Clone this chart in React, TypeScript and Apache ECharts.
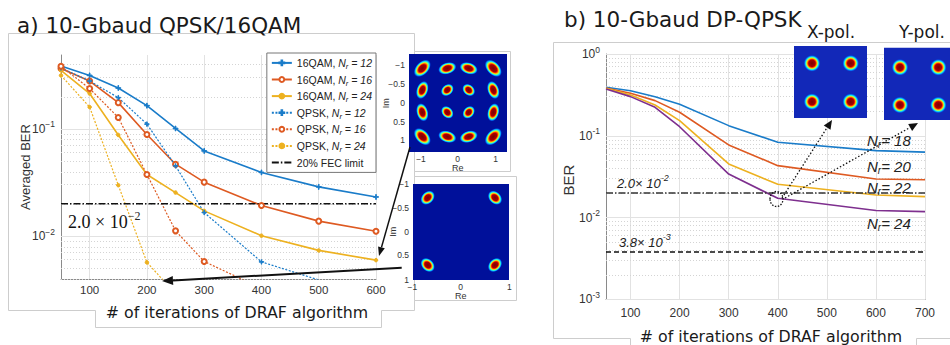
import React, { useEffect, useRef } from 'react';
import * as echarts from 'echarts';

// ---------------- Panel a) 10-Gbaud QPSK/16QAM ----------------
const ITER_16QAM = [50, 100, 150, 200, 250, 300, 400, 500, 600];
const BER_16QAM_NR12 = [0.386, 0.316, 0.241, 0.165, 0.101, 0.0624, 0.0393, 0.0288, 0.0232];
const BER_16QAM_NR16 = [0.366, 0.28, 0.176, 0.0887, 0.0469, 0.0319, 0.0193, 0.0138, 0.0111];
const BER_16QAM_NR24 = [0.352, 0.214, 0.0879, 0.0376, 0.0255, 0.0172, 0.0101, 0.00736, 0.00597];
const ITER_QPSK_NR12 = [50, 100, 150, 200, 250, 300, 400, 500];
const BER_QPSK_NR12 = [0.371, 0.28, 0.196, 0.111, 0.0452, 0.0166, 0.00575, 0.0039];
const ITER_QPSK_NR16 = [50, 100, 150, 200, 250, 300, 400];
const BER_QPSK_NR16 = [0.384, 0.238, 0.128, 0.0376, 0.0112, 0.0058, 0.00325];
const ITER_QPSK_NR24 = [50, 100, 150, 200, 250];
const BER_QPSK_NR24 = [0.316, 0.16, 0.0299, 0.00569, 0.0029];
const FEC_A = 0.02;
const X_TICKS_A = [100, 200, 300, 400, 500, 600];
const Y_DECADES_A = [-2, -1];
const NAMES_A = ['16QAM, Nr = 12', '16QAM, Nr = 16', '16QAM, Nr = 24', 'QPSK, Nr = 12', 'QPSK, Nr = 16', 'QPSK, Nr = 24', '20% FEC limit'];

// ---------------- Panel b) 10-Gbaud DP-QPSK ----------------
const ITER_B = [50, 100, 150, 200, 300, 400, 600, 700];
const BER_B_NR18 = [0.392, 0.356, 0.3, 0.243, 0.133, 0.0832, 0.0658, 0.063];
const BER_B_NR20 = [0.384, 0.331, 0.269, 0.194, 0.0773, 0.0431, 0.0296, 0.029];
const BER_B_NR22 = [0.38, 0.315, 0.238, 0.153, 0.0452, 0.0255, 0.0189, 0.018];
const BER_B_NR24 = [0.373, 0.301, 0.223, 0.129, 0.034, 0.0172, 0.0122, 0.0118];
const FEC_B_HIGH = 0.02;
const FEC_B_LOW = 0.0038;
const X_TICKS_B = [100, 200, 300, 400, 500, 600, 700];
const Y_DECADES_B = [-3, -2, -1, 0];

const BLUE = '#1a7cc9';
const ORANGE = '#de5a22';
const YELLOW = '#edb120';
const PURPLE = '#7e2f8e';
const SANS = 'Liberation Sans, Arial, sans-serif';
const TITLE_FONT = 'DejaVu Sans, sans-serif';
const CROSS = 'path://M-1,-0.13H-0.13V-1H0.13V-0.13H1V0.13H0.13V1H-0.13V0.13H-1Z';

const lg = (v: number) => Math.log10(v);
const pairs = (xs: number[], ys: number[]) => xs.map((x, i) => [x, lg(ys[i])]);

function minorLogs(min: number, max: number) {
  const out: number[] = [];
  for (let d = Math.floor(min); d <= Math.ceil(max); d++) {
    for (let k = 2; k <= 9; k++) {
      const v = d + Math.log10(k);
      if (v > min + 1e-6 && v < max - 1e-6) out.push(v);
    }
  }
  return out;
}

const MAJOR = { color: '#e2e2e2', type: 'solid', width: 1 };
const MINOR = { color: '#d4d4d4', type: [1, 2], width: 1 };

function gridSeries(idx: number, xTicks: number[], decades: number[], ymin: number, ymax: number) {
  const data: any[] = [];
  xTicks.forEach((v) => data.push({ xAxis: v, lineStyle: MAJOR }));
  decades.forEach((v) => data.push({ yAxis: v, lineStyle: MAJOR }));
  minorLogs(ymin, ymax).forEach((v) => data.push({ yAxis: v, lineStyle: MINOR }));
  return {
    type: 'line',
    xAxisIndex: idx,
    yAxisIndex: idx,
    data: [],
    silent: true,
    z: 1,
    markLine: { silent: true, z: 1, symbol: ['none', 'none'], label: { show: false }, animation: false, data },
  };
}

function jet(core = 0.45) {
  return new echarts.graphic.RadialGradient(0.5, 0.5, 0.5, [
    { offset: 0, color: '#7a0000' },
    { offset: core, color: '#a80000' },
    { offset: core + 0.1, color: '#ff2a00' },
    { offset: core + 0.2, color: '#ffc000' },
    { offset: core + 0.28, color: '#a0ff60' },
    { offset: core + 0.36, color: '#20f0e0' },
    { offset: Math.min(core + 0.45, 0.95), color: '#0090ff' },
    { offset: 1, color: 'rgba(0,40,220,0)' },
  ]);
}

function blob(cx: number, cy: number, ox: number, oy: number, a: number, b: number) {
  const rot = Math.atan2(-(cy - oy), cx - ox) + Math.PI / 2;
  return { type: 'ellipse', x: cx, y: cy, rotation: rot, shape: { cx: 0, cy: 0, rx: a, ry: b }, style: { fill: jet(0.4) }, z: 52, silent: true };
}

function txt(x: number, y: number, text: string, opts: any = {}) {
  const { rotation, z, ...st } = opts;
  return {
    type: 'text',
    x,
    y,
    rotation: rotation || 0,
    z: z ?? 60,
    silent: true,
    style: {
      text,
      fontFamily: SANS,
      fontSize: 12,
      fill: '#222',
      align: 'center',
      verticalAlign: 'middle',
      textAlign: 'center',
      textVerticalAlign: 'middle',
      ...st,
    },
  };
}

function arrowHead(tip: number[], from: number[], len: number, w: number) {
  const dx = tip[0] - from[0];
  const dy = tip[1] - from[1];
  const n = Math.hypot(dx, dy);
  const ux = dx / n;
  const uy = dy / n;
  const bx = tip[0] - len * ux;
  const by = tip[1] - len * uy;
  const px = -uy;
  const py = ux;
  return {
    base: [bx, by],
    poly: [tip, [bx + w * px, by + w * py], [bx - w * px, by - w * py]],
  };
}

function arrow(from: number[], tip: number[], opts: { width: number; dash?: number[]; len: number; w: number }) {
  const h = arrowHead(tip, from, opts.len, opts.w);
  return [
    {
      type: 'polyline',
      z: 61,
      silent: true,
      shape: { points: [from, h.base] },
      style: { stroke: '#111', lineWidth: opts.width, fill: 'none', lineDash: opts.dash || null },
    },
    { type: 'polygon', z: 61, silent: true, shape: { points: h.poly }, style: { fill: '#111' } },
  ];
}

const SUP = (size: number, pad: number, italic = false, family = SANS) => ({
  fontFamily: family,
  fontSize: size,
  fontStyle: italic ? 'italic' : 'normal',
  padding: [0, 0, pad, 0],
  fill: '#222',
  color: '#222',
});

function buildGraphics() {
  const G: any[] = [];
  const BORDER = '#cdcdcd';
  // panel borders
  G.push({
    type: 'polyline',
    z: 0,
    silent: true,
    shape: { points: [[8.5, 33.5], [414.5, 33.5], [414.5, 310.5], [381.5, 310.5], [381.5, 327.5], [95.5, 327.5], [95.5, 310.5], [8.5, 310.5], [8.5, 33.5]] },
    style: { stroke: BORDER, lineWidth: 1, fill: 'none' },
  });
  G.push({
    type: 'polyline',
    z: 0,
    silent: true,
    shape: { points: [[951, 42.5], [553.5, 42.5], [553.5, 338.5], [630.5, 338.5], [630.5, 346]] },
    style: { stroke: BORDER, lineWidth: 1, fill: 'none' },
  });
  G.push({
    type: 'polyline',
    z: 0,
    silent: true,
    shape: { points: [[916.5, 346], [916.5, 338.5], [951, 338.5]] },
    style: { stroke: BORDER, lineWidth: 1, fill: 'none' },
  });

  // titles
  G.push(txt(17, 25.5, 'a) 10-Gbaud QPSK/16QAM', { align: 'left', textAlign: 'left', fontFamily: TITLE_FONT, fontSize: 21.5, fill: '#1a1a1a' }));
  G.push(txt(564, 19.5, 'b) 10-Gbaud DP-QPSK', { align: 'left', textAlign: 'left', fontFamily: TITLE_FONT, fontSize: 21.5, fill: '#1a1a1a' }));
  G.push(txt(831, 32, 'X-pol.', { fontFamily: TITLE_FONT, fontSize: 17, fill: '#1a1a1a' }));
  G.push(txt(922, 32, 'Y-pol.', { fontFamily: TITLE_FONT, fontSize: 17, fill: '#1a1a1a' }));

  // axis titles
  G.push(txt(237, 312, '# of iterations of DRAF algorithm', { fontFamily: TITLE_FONT, fontSize: 15.8, fill: '#1a1a1a' }));
  G.push(txt(771, 336, '# of iterations of DRAF algorithm', { fontFamily: TITLE_FONT, fontSize: 15.8, fill: '#1a1a1a' }));
  G.push(txt(25, 167, 'Averaged BER', { rotation: Math.PI / 2, fontSize: 13, fill: '#333' }));
  G.push(txt(568, 180, 'BER', { rotation: Math.PI / 2, fontSize: 15, fill: '#333' }));

  // threshold annotations
  G.push(
    txt(68, 222, '2.0 × 10{e|−2}', {
      align: 'left',
      textAlign: 'left',
      fontFamily: 'Liberation Serif, serif',
      fontSize: 18,
      fill: '#111',
      rich: { e: SUP(12, 12, false, 'Liberation Serif, serif') },
    })
  );
  G.push(
    txt(617, 183, '2.0× 10{e|-2}', {
      align: 'left',
      textAlign: 'left',
      fontStyle: 'italic',
      fontSize: 13,
      fill: '#222',
      rich: { e: SUP(9, 10, true) },
    })
  );
  G.push(
    txt(619, 242, '3.8× 10{e|-3}', {
      align: 'left',
      textAlign: 'left',
      fontStyle: 'italic',
      fontSize: 13,
      fill: '#222',
      rich: { e: SUP(9, 10, true) },
    })
  );
  // N_r labels panel b
  const nrRich = {
    s: { fontFamily: SANS, fontStyle: 'italic', fontSize: 10, padding: [8, 0, 0, 0], fill: '#222', color: '#222' },
  };
  [
    [140, '18'],
    [166.7, '20'],
    [187.7, '22'],
    [223, '24'],
  ].forEach(([y, n]) => {
    G.push(txt(867, y as number, `N{s|r}= ${n}`, { align: 'left', textAlign: 'left', fontStyle: 'italic', fontSize: 15, fill: '#222', rich: nrRich }));
  });

  // ---- inset 16QAM ----
  G.push({ type: 'rect', z: 50, silent: true, shape: { x: 414.5, y: 51.5, width: 96, height: 120 }, style: { fill: '#fff', stroke: BORDER, lineWidth: 1 } });
  G.push({ type: 'rect', z: 51, silent: true, shape: { x: 409, y: 54, width: 98, height: 98 }, style: { fill: '#00109a' } });
  const qx = [422.3, 447.3, 468.7, 493.3];
  const qy = [68.3, 90, 112.3, 136.7];
  const ox = 457.8;
  const oy = 102.5;
  for (let r = 0; r < 4; r++) {
    for (let c = 0; c < 4; c++) {
      const edgeR = r === 0 || r === 3;
      const edgeC = c === 0 || c === 3;
      let a = 7.2;
      let b = 5.6;
      if (edgeR && edgeC) {
        a = 10.5;
        b = 6.6;
      } else if (edgeR || edgeC) {
        a = 9.5;
        b = 6;
      }
      G.push(blob(qx[c], qy[r], ox, oy, a, b));
    }
  }
  const tick16 = [[-1, 65], [-0.5, 84.3], [0, 103.3], [0.5, 122.3], [1, 140.3]];
  tick16.forEach(([v, y]) => G.push(txt(405, y, String(v).replace('-', '−'), { align: 'right', textAlign: 'right', fontSize: 8.5, fill: '#333', z: 53 })));
  [[-1, 421], [0, 457.7], [1, 495.7]].forEach(([v, x]) => G.push(txt(x, 158.5, String(v).replace('-', '−'), { fontSize: 8.5, fill: '#333', z: 53 })));
  G.push(txt(457.7, 167.5, 'Re', { fontSize: 9, fill: '#333', z: 53 }));
  G.push(txt(386, 103.3, 'Im', { fontSize: 9, fill: '#333', z: 53, rotation: Math.PI / 2 }));

  // ---- inset QPSK ----
  G.push({ type: 'rect', z: 50, silent: true, shape: { x: 414.5, y: 176.5, width: 102, height: 124 }, style: { fill: '#fff', stroke: BORDER, lineWidth: 1 } });
  G.push({ type: 'rect', z: 51, silent: true, shape: { x: 413, y: 184, width: 96, height: 96 }, style: { fill: '#00109a' } });
  [[427.7, 197.7], [495, 197.7], [427.7, 265], [495, 265]].forEach(([x, y]) => G.push(blob(x, y, 461.3, 231.3, 8.2, 6.2)));
  [[-1, 184.3], [-0.5, 207.7], [0, 231.7], [0.5, 255], [1, 280]].forEach(([v, y]) =>
    G.push(txt(409, y, String(v).replace('-', '−'), { align: 'right', textAlign: 'right', fontSize: 8.5, fill: '#333', z: 53 }))
  );
  [[-1, 412.3], [0, 460.7], [1, 509.3]].forEach(([v, x]) => G.push(txt(x, 287, String(v).replace('-', '−'), { fontSize: 8.5, fill: '#333', z: 53 })));
  G.push(txt(460.7, 296, 'Re', { fontSize: 9, fill: '#333', z: 53 }));
  G.push(txt(392.7, 231.7, 'Im', { fontSize: 9, fill: '#333', z: 53, rotation: Math.PI / 2 }));

  // ---- insets X-pol / Y-pol ----
  G.push({ type: 'rect', z: 51, silent: true, shape: { x: 794, y: 46, width: 73, height: 72 }, style: { fill: '#1228b8' } });
  G.push({ type: 'rect', z: 51, silent: true, shape: { x: 884, y: 47.7, width: 67, height: 72.3 }, style: { fill: '#1228b8' } });
  const circ = (x: number, y: number) => ({
    type: 'circle',
    z: 52,
    silent: true,
    shape: { cx: x, cy: y, r: 8.5 },
    style: { fill: jet(0.38) },
  });
  [[812, 63.3], [850.7, 63.3], [812, 101.7], [850.7, 101.7], [900, 67.3], [938.3, 67.3], [900, 105], [938.3, 105]].forEach(([x, y]) => G.push(circ(x, y)));

  // arrows panel a
  G.push(...arrow([410, 147], [379, 256], { width: 1.5, len: 9, w: 3.5 }));
  G.push(...arrow([401.7, 267.7], [162, 281], { width: 2, len: 11, w: 4.5 }));
  // dotted arrows panel b
  G.push(...arrow([782, 198], [832, 120], { width: 1.3, dash: [1.5, 2], len: 9, w: 4 }));
  G.push(...arrow([785, 198], [918, 123], { width: 1.3, dash: [1.5, 2], len: 9, w: 4 }));
  G.push({
    type: 'ellipse',
    z: 61,
    silent: true,
    shape: { cx: 776.5, cy: 199, rx: 6.5, ry: 7.5 },
    style: { fill: 'none', stroke: '#111', lineWidth: 1.3, lineDash: [1.5, 1.5] },
  });
  return G;
}

function buildOption() {
  const axisLabelRich = {
    b: { fontFamily: SANS, fontSize: 12, color: '#333' },
    e: { fontFamily: SANS, fontSize: 8.5, color: '#333', padding: [0, 0, 9, 0] },
  };
  const decadeFmt = (v: number) => {
    const p = Math.round(v);
    return p === 0 ? '{b|10}{e|0}' : `{b|10}{e|${p < 0 ? '−' : ''}${Math.abs(p)}}`;
  };
  const decadeFmtB = (v: number) => {
    const p = Math.round(v);
    return p === 0 ? '{b|10}{e|0}' : `{b|10}{e|-${Math.abs(p)}}`;
  };
  const axisLineStyle = { color: '#8a8a8a', width: 1 };

  const lineSeries = (name: string, xs: number[], ys: number[], color: string, opts: any) => ({
    type: 'line',
    name,
    xAxisIndex: opts.idx ?? 0,
    yAxisIndex: opts.idx ?? 0,
    data: pairs(xs, ys),
    symbol: opts.symbol ?? 'circle',
    symbolSize: opts.symbolSize ?? 4,
    showSymbol: opts.symbol ? true : false,
    clip: true,
    z: 3,
    lineStyle: { color, width: opts.width ?? 1.5, type: opts.type ?? 'solid' },
    itemStyle: opts.symbol
      ? { color, borderColor: color, borderWidth: opts.borderWidth ?? 1 }
      : { color: 'rgba(0,0,0,0)', borderColor: 'rgba(0,0,0,0)', borderWidth: 0 },
  });

  const DOT = [2, 1.6];
  const legendRich = {
    n: { fontFamily: SANS, fontSize: 10.5, fontStyle: 'italic', color: '#222' },
    s: { fontFamily: SANS, fontSize: 7.5, fontStyle: 'italic', color: '#222', padding: [7, 0, 0, 0] },
  };

  return {
    animation: false,
    backgroundColor: '#fff',
    grid: [
      { left: 61, top: 55, width: 315, height: 224, outerBoundsMode: 'none' },
      { left: 606, top: 54, width: 319, height: 245.3, outerBoundsMode: 'none' },
    ],
    xAxis: [
      {
        type: 'value',
        gridIndex: 0,
        min: 50,
        max: 600,
        axisLine: { show: true, onZero: false, lineStyle: axisLineStyle },
        axisTick: { show: true, inside: true, length: 3, customValues: X_TICKS_A, lineStyle: axisLineStyle },
        axisLabel: { customValues: X_TICKS_A, margin: 5, fontFamily: SANS, fontSize: 11.5, color: '#333' },
        splitLine: { show: false },
      },
      {
        type: 'value',
        gridIndex: 1,
        min: 50,
        max: 700,
        axisLine: { show: true, onZero: false, lineStyle: axisLineStyle },
        axisTick: { show: true, inside: true, length: 3, customValues: X_TICKS_B, lineStyle: axisLineStyle },
        axisLabel: { customValues: X_TICKS_B, margin: 8, fontFamily: SANS, fontSize: 12, color: '#333' },
        splitLine: { show: false },
      },
    ],
    yAxis: [
      {
        type: 'value',
        gridIndex: 0,
        min: -2.4,
        max: -0.31,
        axisLine: { show: true, onZero: false, lineStyle: axisLineStyle },
        axisTick: { show: true, inside: true, length: 3, customValues: Y_DECADES_A, lineStyle: axisLineStyle },
        axisLabel: { customValues: Y_DECADES_A, margin: 6, formatter: decadeFmt, rich: axisLabelRich },
        splitLine: { show: false },
      },
      {
        type: 'value',
        gridIndex: 1,
        min: -3,
        max: 0,
        axisLine: { show: true, onZero: false, lineStyle: axisLineStyle },
        axisTick: { show: true, inside: true, length: 3, customValues: Y_DECADES_B, lineStyle: axisLineStyle },
        axisLabel: { customValues: Y_DECADES_B, margin: 6, formatter: decadeFmtB, rich: axisLabelRich },
        splitLine: { show: false },
      },
    ],
    legend: {
      data: NAMES_A,
      orient: 'vertical',
      right: 574,
      top: 53,
      itemWidth: 20,
      itemHeight: 6,
      itemGap: 2.2,
      padding: [3, 4, 3, 4],
      backgroundColor: '#fff',
      borderColor: '#777',
      borderWidth: 1,
      borderRadius: 0,
      selectedMode: false,
      textStyle: { fontFamily: SANS, fontSize: 10.5, color: '#222', lineHeight: 13.8, rich: legendRich },
      formatter: (name: string) => name.replace(/Nr = (\d+)/, '{n|N}{s|r}{n| = $1}'),
    },
    graphic: { elements: buildGraphics() },
    series: [
      gridSeries(0, X_TICKS_A, Y_DECADES_A, -2.4, -0.31),
      gridSeries(1, X_TICKS_B, Y_DECADES_B, -3, 0),
      lineSeries(NAMES_A[0], ITER_16QAM, BER_16QAM_NR12, BLUE, { symbol: CROSS, symbolSize: 5, width: 1.6 }),
      lineSeries(NAMES_A[1], ITER_16QAM, BER_16QAM_NR16, ORANGE, { symbol: 'emptyCircle', symbolSize: 5, width: 1.6, borderWidth: 1.1 }),
      lineSeries(NAMES_A[2], ITER_16QAM, BER_16QAM_NR24, YELLOW, { symbol: 'circle', symbolSize: 3.5, width: 1.6 }),
      lineSeries(NAMES_A[3], ITER_QPSK_NR12, BER_QPSK_NR12, BLUE, { symbol: CROSS, symbolSize: 4.5, width: 1.2, type: DOT }),
      lineSeries(NAMES_A[4], ITER_QPSK_NR16, BER_QPSK_NR16, ORANGE, { symbol: 'emptyCircle', symbolSize: 5, width: 1.2, type: DOT, borderWidth: 1 }),
      lineSeries(NAMES_A[5], ITER_QPSK_NR24, BER_QPSK_NR24, YELLOW, { symbol: 'circle', symbolSize: 3.5, width: 1.2, type: DOT }),
      lineSeries(NAMES_A[6], [50, 600], [FEC_A, FEC_A], '#111', { width: 1.5, type: [7, 2, 1.5, 2] }),
      // panel b
      lineSeries('Nr = 18', ITER_B, BER_B_NR18, BLUE, { idx: 1, width: 1.6 }),
      lineSeries('Nr = 20', ITER_B, BER_B_NR20, ORANGE, { idx: 1, width: 1.6 }),
      lineSeries('Nr = 22', ITER_B, BER_B_NR22, YELLOW, { idx: 1, width: 1.6 }),
      lineSeries('Nr = 24', ITER_B, BER_B_NR24, PURPLE, { idx: 1, width: 1.6 }),
      lineSeries('FEC 2.0e-2', [50, 700], [FEC_B_HIGH, FEC_B_HIGH], '#333', { idx: 1, width: 1.5, type: [7, 2, 1.5, 2] }),
      lineSeries('FEC 3.8e-3', [50, 700], [FEC_B_LOW, FEC_B_LOW], '#111', { idx: 1, width: 1.5, type: [5, 3] }),
    ],
  };
}

export default function App() {
  const ref = useRef<HTMLDivElement>(null);
  useEffect(() => {
    if (!ref.current) return;
    const chart = echarts.init(ref.current, null, { renderer: 'svg', width: 950, height: 345 });
    chart.setOption(buildOption() as any);
    return () => chart.dispose();
  }, []);
  return <div ref={ref} style={{ position: 'absolute', left: 0, top: 0, width: 950, height: 345, background: '#fff' }} />;
}
